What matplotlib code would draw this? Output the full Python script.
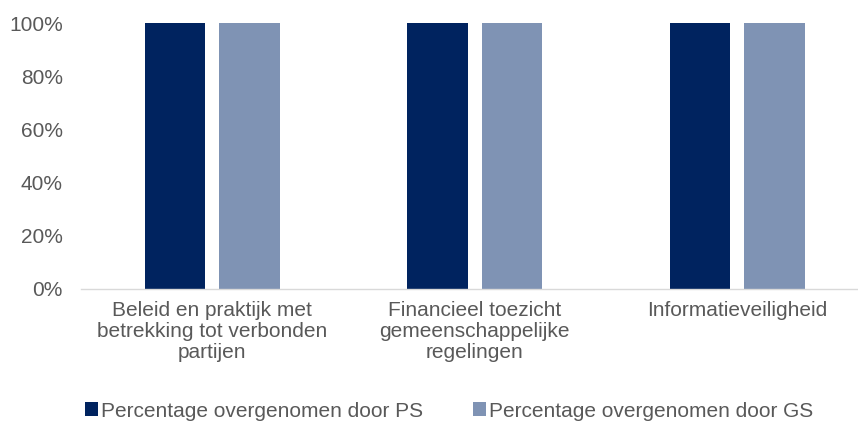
import matplotlib

matplotlib.use("Agg")
import matplotlib.pyplot as plt
import numpy as np
from matplotlib.ticker import PercentFormatter

plt.rcParams["font.family"] = ["Liberation Sans", "DejaVu Sans"]

INK = "#595959"
NAVY = "#00235F"
STEEL = "#7F93B4"

categories = [
    "Beleid en praktijk met\nbetrekking tot verbonden\npartijen",
    "Financieel toezicht\ngemeenschappelijke\nregelingen",
    "Informatieveiligheid",
]
ps_values = [1.0, 1.0, 1.0]
gs_values = [1.0, 1.0, 1.0]
series_labels = ["Percentage overgenomen door PS", "Percentage overgenomen door GS"]

fig = plt.figure(figsize=(8.58, 4.23), dpi=100)
ax = fig.add_axes([81 / 858, 134 / 423, 777 / 858, 266 / 423])

x = np.arange(len(categories))
w = 0.232
ax.bar(x - 0.142, ps_values, w, color=NAVY, label=series_labels[0])
ax.bar(x + 0.142, gs_values, w, color=STEEL, label=series_labels[1])

ax.set_xlim(-0.5, -0.5 + 777 / 262.5)
ax.set_ylim(0, 1)
ax.set_yticks(np.arange(0, 1.01, 0.2))
ax.yaxis.set_major_formatter(PercentFormatter(1.0, decimals=0))
ax.set_xticks(x)
ax.set_xticklabels(categories, fontsize=15, color=INK, linespacing=1.1)
ax.tick_params(axis="y", length=0, pad=13, labelsize=15, labelcolor=INK)
ax.tick_params(axis="x", length=0, pad=9)

for side in ["top", "right", "left"]:
    ax.spines[side].set_visible(False)
ax.spines["bottom"].set_color("#D9D9D9")
ax.spines["bottom"].set_linewidth(1.0)

fig.legend(loc="center", bbox_to_anchor=(449 / 858, 1 - 411 / 423), ncol=2,
           frameon=False, fontsize=15, labelcolor=INK, handlelength=0.63,
           handleheight=0.63, handletextpad=0.15, columnspacing=2.4,
           borderpad=0, borderaxespad=0)

fig.savefig("out.png", dpi=100, facecolor="white")
plt.close(fig)
